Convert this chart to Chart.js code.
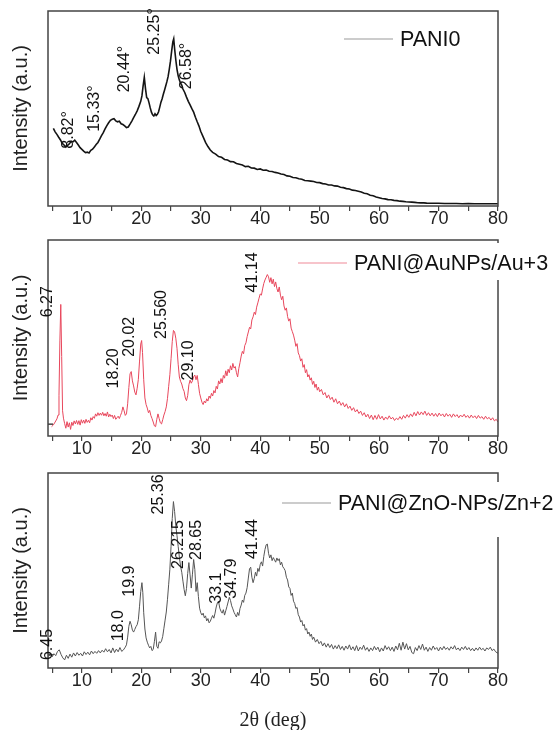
<!DOCTYPE html>
<html>
<head>
<meta charset="utf-8">
<script src="https://cdn.jsdelivr.net/npm/chart.js@4.4.1/dist/chart.umd.min.js"></script>
<style>
  html, body { margin:0; padding:0; background:#fff; }
  body { width:560px; height:730px; position:relative; overflow:hidden; }
  .panel { position:absolute; left:0; width:560px; }
</style>
</head>
<body>
<div class="panel" id="p1" style="top:0;height:236px"><canvas id="c1"></canvas></div>
<div class="panel" id="p2" style="top:236px;height:230px"><canvas id="c2"></canvas></div>
<div class="panel" id="p3" style="top:466px;height:264px"><canvas id="c3"></canvas></div>
<script>
// Data: [2theta, intensity (a.u., 0-100 of panel)]
const pani0Points = [[5.2,39.2],[5.5,37.4],[5.8,36.1],[6.1,34.6],[6.4,33.2],[6.7,31.4],[7.0,30.6],[7.3,29.5],[7.6,30.4],[7.9,31.2],[8.2,32.6],[8.5,32.2],[8.8,33.1],[9.1,31.9],[9.4,30.6],[9.7,29.2],[10.0,28.3],[10.3,27.4],[10.6,26.6],[10.9,26.9],[11.2,26.5],[11.5,27.8],[11.8,28.4],[12.1,29.6],[12.4,30.8],[12.7,31.9],[13.0,33.6],[13.3,35.4],[13.6,37.0],[13.9,38.9],[14.2,40.6],[14.5,42.1],[14.8,43.4],[15.1,43.9],[15.4,44.2],[15.7,43.1],[16.0,42.6],[16.3,42.9],[16.6,41.6],[16.9,41.2],[17.2,40.5],[17.5,39.6],[17.8,39.9],[18.1,41.4],[18.4,43.0],[18.7,44.8],[19.0,46.4],[19.3,48.3],[19.6,50.6],[19.9,53.2],[20.1,56.0],[20.3,61.2],[20.5,65.6],[20.7,59.8],[20.9,55.2],[21.1,54.6],[21.3,52.4],[21.5,49.8],[21.7,47.6],[21.9,46.2],[22.1,45.6],[22.3,46.8],[22.5,45.9],[22.7,46.5],[22.9,47.8],[23.1,50.2],[23.3,52.8],[23.5,54.6],[23.7,56.9],[23.9,59.0],[24.1,61.2],[24.3,63.4],[24.5,66.0],[24.7,69.8],[24.9,74.0],[25.1,79.2],[25.3,84.0],[25.45,85.6],[25.6,80.4],[25.8,74.6],[26.0,69.8],[26.2,66.4],[26.4,64.2],[26.6,62.6],[26.8,61.6],[27.0,59.6],[27.3,57.8],[27.6,55.4],[27.9,53.2],[28.2,51.4],[28.5,49.4],[28.8,47.6],[29.1,45.0],[29.4,42.6],[29.7,40.4],[30.0,37.6],[30.4,34.8],[30.8,32.0],[31.2,29.8],[31.6,28.0],[32.0,26.8],[32.5,25.9],[33.0,24.6],[33.5,24.2],[34.0,23.1],[34.5,22.8],[35.0,22.0],[35.5,21.9],[36.0,21.0],[36.5,20.6],[37.0,20.2],[37.5,19.4],[38.0,19.6],[38.5,18.7],[39.0,18.6],[39.5,17.9],[40.0,18.2],[40.5,17.5],[41.0,17.6],[41.5,17.0],[42.0,16.9],[42.5,16.4],[43.0,16.1],[43.5,15.6],[44.0,15.3],[44.5,14.6],[45.0,14.4],[45.5,13.8],[46.0,13.6],[46.5,13.1],[47.0,12.9],[47.5,12.2],[48.0,12.1],[48.5,11.9],[49.0,11.7],[49.5,11.2],[50.0,11.1],[50.5,10.6],[51.0,10.4],[51.5,9.9],[52.0,9.9],[52.5,9.4],[53.0,9.3],[53.5,8.7],[54.0,8.5],[54.5,8.0],[55.0,7.8],[55.5,7.2],[56.0,7.0],[56.5,6.6],[57.0,6.2],[57.5,5.6],[58.0,5.3],[58.5,4.6],[59.0,4.3],[59.5,3.7],[60.0,3.3],[60.5,2.9],[61.0,2.7],[61.5,2.3],[62.0,2.2],[62.5,1.9],[63.0,1.8],[63.5,1.5],[64.0,1.4],[64.5,1.2],[65.0,1.1],[65.5,1.0],[66.0,0.9],[66.5,0.7],[67.0,0.6],[67.5,0.6],[68.0,0.5],[69.0,0.4],[70.0,0.4],[71.0,0.3],[72.0,0.3],[73.0,0.3],[74.0,0.2],[75.0,0.3],[76.0,0.2],[77.0,0.2],[78.0,0.2],[79.0,0.2],[80.0,0.2]];

const auPoints = [[4.9,3.8],[5.2,4.7],[5.5,6.2],[5.8,7.8],[6.0,9.8],[6.15,20],[6.3,48],[6.45,66.8],[6.6,40],[6.75,12],[6.9,8.2],[7.1,5.4],[7.3,3.0],[7.5,6.4],[7.7,3.6],[7.9,5.8],[8.1,2.4],[8.3,6.1],[8.5,4.4],[8.7,6.8],[8.9,5.2],[9.1,7.0],[9.3,5.0],[9.5,6.9],[9.7,4.6],[9.9,7.4],[10.1,5.6],[10.3,7.2],[10.5,5.5],[10.7,7.6],[10.9,6.0],[11.1,7.1],[11.3,5.8],[11.5,8.4],[11.7,7.2],[11.9,9.0],[12.1,8.1],[12.3,10.4],[12.5,9.2],[12.7,11.0],[12.9,9.6],[13.1,10.8],[13.3,9.7],[13.5,11.2],[13.7,9.4],[13.9,10.6],[14.1,9.2],[14.3,11.4],[14.5,8.8],[14.7,10.2],[14.9,9.0],[15.1,9.8],[15.3,8.0],[15.5,9.6],[15.7,7.6],[15.9,8.4],[16.1,9.2],[16.3,8.0],[16.5,9.6],[16.7,11.2],[16.9,14.0],[17.1,12.0],[17.3,9.6],[17.5,10.4],[17.7,15.6],[17.9,24],[18.1,31.0],[18.3,32.2],[18.5,27.4],[18.7,24.8],[18.9,21.6],[19.1,20.2],[19.3,23.6],[19.5,28.2],[19.7,37.6],[19.9,46.4],[20.05,48.2],[20.2,42.0],[20.4,28.0],[20.6,18.6],[20.8,15.2],[21.0,13.4],[21.2,11.0],[21.4,12.2],[21.6,9.6],[21.8,8.0],[22.0,6.2],[22.2,4.2],[22.4,3.8],[22.6,7.6],[22.8,10.4],[23.0,8.0],[23.2,5.8],[23.4,5.2],[23.6,7.4],[23.8,9.8],[24.0,11.6],[24.2,14.0],[24.4,18.4],[24.6,24.6],[24.8,30.6],[25.0,38.8],[25.2,47.6],[25.4,53.4],[25.6,52.6],[25.8,49.4],[26.0,44.2],[26.2,36.0],[26.4,29.4],[26.6,27.2],[26.8,25.8],[27.0,23.4],[27.2,22.0],[27.4,18.6],[27.6,17.2],[27.8,19.8],[28.0,25.4],[28.2,27.8],[28.4,26.2],[28.6,27.4],[28.8,29.6],[29.0,30.4],[29.2,28.0],[29.4,30.2],[29.6,25.6],[29.8,21.0],[30.0,18.6],[30.2,16.4],[30.4,15.2],[30.6,17.0],[30.8,16.0],[31.0,18.2],[31.2,17.0],[31.4,19.6],[31.6,18.4],[31.8,21.0],[32.0,19.6],[32.2,22.4],[32.4,21.2],[32.6,24.6],[32.8,23.2],[33.0,27.4],[33.2,25.8],[33.4,28.6],[33.6,26.4],[33.8,30.2],[34.0,28.8],[34.2,32.6],[34.4,30.0],[34.6,33.4],[34.8,31.6],[35.0,35.2],[35.2,33.0],[35.4,36.4],[35.6,34.0],[35.8,34.8],[36.0,31.6],[36.2,29.4],[36.4,33.8],[36.6,36.8],[36.8,40.2],[37.0,42.6],[37.2,41.4],[37.4,45.6],[37.6,47.0],[37.8,50.2],[38.0,52.6],[38.2,55.0],[38.4,54.2],[38.6,58.8],[38.8,60.4],[39.0,62.8],[39.2,61.6],[39.4,65.4],[39.6,67.6],[39.8,70.0],[40.0,72.2],[40.2,71.6],[40.4,74.8],[40.6,77.6],[40.8,79.4],[41.0,80.8],[41.2,82.2],[41.4,81.0],[41.6,78.2],[41.8,80.6],[42.0,77.4],[42.2,79.8],[42.4,76.0],[42.6,78.4],[42.8,75.0],[43.0,73.2],[43.2,75.8],[43.4,71.6],[43.6,69.2],[43.8,71.0],[44.0,66.0],[44.2,63.8],[44.4,65.0],[44.6,60.6],[44.8,58.2],[45.0,59.4],[45.2,54.6],[45.4,52.8],[45.6,51.0],[45.8,48.4],[46.0,45.2],[46.2,46.6],[46.4,41.8],[46.6,40.4],[46.8,37.6],[47.0,38.8],[47.2,34.4],[47.4,35.8],[47.6,31.6],[47.8,33.2],[48.0,29.4],[48.2,30.6],[48.4,27.8],[48.6,29.0],[48.8,25.6],[49.0,27.2],[49.2,24.0],[49.4,25.8],[49.6,22.6],[49.8,24.2],[50.0,21.8],[50.3,23.0],[50.6,20.2],[50.9,21.4],[51.2,18.6],[51.5,20.2],[51.8,17.8],[52.1,19.0],[52.4,16.4],[52.7,18.2],[53.0,15.6],[53.3,17.0],[53.6,14.8],[53.9,16.2],[54.2,14.0],[54.5,15.6],[54.8,13.2],[55.1,14.4],[55.4,12.2],[55.7,13.6],[56.0,11.4],[56.3,12.6],[56.6,10.6],[56.9,11.8],[57.2,9.6],[57.5,11.0],[57.8,8.8],[58.1,10.2],[58.4,8.0],[58.7,9.8],[59.0,7.4],[59.3,9.6],[59.6,7.6],[59.9,10.0],[60.2,7.8],[60.5,9.2],[60.8,7.2],[61.1,8.8],[61.4,7.6],[61.7,9.4],[62.0,7.8],[62.3,8.6],[62.6,7.0],[62.9,8.2],[63.2,7.4],[63.5,9.0],[63.8,7.6],[64.1,9.6],[64.4,8.2],[64.7,10.0],[65.0,8.6],[65.3,10.4],[65.6,9.0],[65.9,11.2],[66.2,9.4],[66.5,11.6],[66.8,9.8],[67.1,11.4],[67.4,10.0],[67.7,11.8],[68.0,9.6],[68.3,11.0],[68.6,9.4],[68.9,10.8],[69.2,9.2],[69.5,10.6],[69.8,9.0],[70.1,10.8],[70.4,9.4],[70.7,10.4],[71.0,8.8],[71.3,10.6],[71.6,9.2],[71.9,10.2],[72.2,8.6],[72.5,10.4],[72.8,9.0],[73.1,10.0],[73.4,8.4],[73.7,9.8],[74.0,8.8],[74.3,10.2],[74.6,8.6],[74.9,9.6],[75.2,8.2],[75.5,9.8],[75.8,8.4],[76.1,9.4],[76.4,8.0],[76.7,9.6],[77.0,8.2],[77.3,9.0],[77.6,7.6],[77.9,9.2],[78.2,7.8],[78.5,8.6],[78.8,7.2],[79.1,8.4],[79.4,6.8],[79.7,7.6],[80.0,6.2]];

const znoPoints = [[4.4,5.0],[4.7,6.6],[5.0,4.8],[5.3,6.4],[5.6,5.4],[5.9,7.6],[6.2,8.4],[6.5,6.0],[6.8,4.2],[7.1,3.2],[7.4,5.6],[7.7,4.0],[8.0,6.2],[8.3,4.6],[8.6,6.8],[8.9,5.2],[9.2,7.0],[9.5,5.6],[9.8,6.6],[10.1,5.2],[10.4,7.4],[10.7,6.0],[11.0,7.2],[11.3,5.8],[11.6,7.8],[11.9,6.4],[12.2,7.6],[12.5,6.6],[12.8,8.0],[13.1,6.8],[13.4,8.2],[13.7,7.2],[14.0,9.0],[14.3,7.4],[14.6,8.6],[14.9,6.8],[15.2,9.4],[15.5,7.0],[15.8,8.8],[16.1,7.4],[16.4,9.6],[16.7,7.6],[17.0,8.4],[17.3,9.8],[17.5,11.0],[17.7,15.0],[17.9,20.6],[18.1,23.2],[18.3,21.4],[18.5,18.6],[18.7,17.6],[18.9,19.0],[19.1,20.4],[19.3,21.4],[19.5,24.0],[19.7,31.0],[19.9,38.6],[20.1,43.2],[20.25,38.0],[20.4,27.6],[20.6,19.2],[20.8,14.6],[21.0,12.4],[21.2,10.8],[21.4,9.4],[21.6,10.2],[21.8,8.0],[22.0,8.6],[22.2,12.8],[22.4,17.6],[22.6,10.2],[22.8,9.2],[23.0,12.6],[23.2,12.0],[23.4,13.0],[23.6,15.4],[23.8,19.6],[24.0,23.8],[24.2,28.0],[24.4,34.6],[24.6,42.4],[24.8,50.2],[25.0,62.0],[25.2,76.4],[25.4,85.2],[25.6,80.0],[25.8,72.6],[26.0,67.6],[26.2,62.0],[26.4,56.4],[26.6,51.8],[26.8,48.6],[27.0,44.0],[27.2,39.6],[27.4,36.4],[27.6,40.2],[27.8,48.0],[28.0,53.6],[28.2,47.2],[28.4,40.4],[28.6,47.6],[28.8,55.2],[29.0,50.0],[29.2,38.6],[29.4,43.2],[29.6,36.0],[29.8,30.0],[30.0,27.6],[30.2,26.4],[30.4,27.4],[30.6,25.0],[30.8,26.0],[31.0,23.4],[31.2,24.6],[31.4,22.4],[31.6,23.2],[31.8,24.8],[32.0,26.2],[32.2,24.8],[32.4,27.4],[32.6,30.6],[32.8,32.8],[33.0,33.4],[33.2,30.0],[33.4,28.4],[33.6,27.4],[33.8,29.2],[34.0,26.4],[34.2,28.6],[34.4,30.8],[34.6,33.2],[34.8,35.6],[35.0,34.0],[35.2,31.2],[35.4,29.6],[35.6,27.8],[35.8,26.6],[36.0,25.4],[36.2,27.8],[36.4,26.2],[36.6,29.8],[36.8,31.6],[37.0,34.2],[37.2,33.0],[37.4,36.6],[37.6,37.8],[37.8,40.6],[38.0,45.6],[38.2,50.4],[38.4,51.2],[38.6,46.0],[38.8,43.2],[39.0,45.4],[39.2,48.6],[39.4,46.6],[39.6,50.6],[39.8,49.0],[40.0,52.6],[40.2,54.0],[40.4,51.8],[40.6,56.8],[40.8,60.4],[41.0,62.8],[41.2,63.2],[41.4,58.4],[41.6,56.0],[41.8,57.6],[42.0,54.6],[42.2,56.2],[42.4,55.0],[42.6,53.8],[42.8,56.0],[43.0,54.6],[43.2,55.6],[43.4,52.4],[43.6,53.8],[43.8,51.4],[44.0,50.6],[44.2,49.4],[44.4,46.0],[44.6,44.6],[44.8,41.0],[45.0,40.2],[45.2,36.6],[45.4,37.8],[45.6,33.6],[45.8,32.4],[46.0,29.8],[46.2,30.4],[46.4,26.6],[46.6,25.4],[46.8,22.8],[47.0,23.6],[47.2,20.8],[47.4,21.6],[47.6,18.6],[47.8,19.4],[48.0,16.6],[48.2,17.6],[48.4,15.4],[48.6,16.6],[48.8,13.8],[49.0,15.0],[49.3,12.4],[49.6,13.8],[49.9,11.6],[50.2,12.8],[50.5,10.4],[50.8,12.0],[51.1,9.8],[51.4,11.6],[51.7,9.6],[52.0,11.2],[52.3,8.8],[52.6,10.6],[52.9,9.0],[53.2,11.0],[53.5,8.6],[53.8,10.2],[54.1,8.2],[54.4,10.4],[54.7,8.8],[55.0,11.0],[55.3,8.4],[55.6,10.0],[55.9,8.0],[56.2,10.6],[56.5,7.8],[56.8,9.8],[57.1,8.6],[57.4,10.8],[57.7,8.2],[58.0,9.6],[58.3,7.6],[58.6,9.4],[58.9,8.0],[59.2,10.2],[59.5,8.4],[59.8,9.8],[60.1,7.4],[60.4,9.4],[60.7,7.8],[61.0,10.6],[61.3,8.6],[61.6,10.0],[61.9,8.0],[62.2,9.8],[62.5,7.6],[62.8,10.4],[63.1,8.4],[63.4,11.8],[63.7,8.2],[64.0,12.4],[64.3,8.8],[64.6,11.6],[64.9,8.4],[65.2,10.2],[65.5,7.0],[65.8,6.4],[66.1,9.6],[66.4,8.0],[66.7,10.6],[67.0,8.6],[67.3,11.4],[67.6,8.2],[67.9,9.8],[68.2,7.6],[68.5,9.6],[68.8,8.2],[69.1,10.4],[69.4,8.6],[69.7,9.6],[70.0,7.8],[70.3,9.8],[70.6,8.4],[70.9,10.2],[71.2,8.6],[71.5,9.6],[71.8,8.2],[72.1,10.0],[72.4,8.8],[72.7,10.6],[73.0,8.4],[73.3,9.4],[73.6,8.0],[73.9,9.8],[74.2,8.6],[74.5,10.2],[74.8,8.4],[75.1,9.6],[75.4,8.0],[75.7,9.2],[76.0,7.8],[76.3,9.4],[76.6,8.2],[76.9,9.8],[77.2,8.4],[77.5,9.2],[77.8,7.8],[78.1,9.4],[78.4,8.6],[78.7,9.8],[79.0,8.0],[79.3,8.8],[79.6,7.4],[80.0,6.6]];

// Peak annotations: text, x position (deg) and y position (start of the rotated text)
const pani0Peaks = ['8.82°', '15.33°', '20.44°', '25.25°', '26.58°'];
const pani0PeakX = [7.8, 12.1, 17.25, 22.3, 27.6];
const pani0PeakY = [28.7, 37.4, 57.9, 77.4, 59.5];

const auPeaks = ['6.27', '18.20', '20.02', '25.560', '29.10', '41.14'];
const auPeakX = [4.3, 15.3, 18.1, 23.4, 28.0, 38.8];
const auPeakY = [60.2, 23.5, 39.8, 49.0, 27.6, 73.0];

const znoPeaks = ['6.45', '18.0', '19.9', '25.36', '26.215', '28.65', '33.1', '34.79', '41.44'];
const znoPeakX = [4.3, 16.2, 18.1, 22.85, 26.2, 29.3, 32.6, 35.2, 38.8];
const znoPeakY = [3.1, 12.8, 35.9, 78.5, 50.3, 55.0, 32.3, 34.9, 55.4];

const xTicks = [5,10,15,20,25,30,35,40,45,50,55,60,65,70,75,80];

Chart.defaults.font.family = '"Liberation Sans", Arial, sans-serif';
Chart.defaults.color = '#222';

// frame, peak labels and legend drawn on top of the data
const xrdDecor = {
  id: 'xrdDecor',
  afterDatasetsDraw(chart, args, opts){
    const {ctx, chartArea: a, scales: {x, y}} = chart;
    ctx.save();
    ctx.strokeStyle = '#444'; ctx.lineWidth = 1.5;
    ctx.strokeRect(a.left, a.top, a.right - a.left, a.bottom - a.top);
    if(opts.baseTick != null){
      const ty = y.getPixelForValue(opts.baseTick);
      ctx.beginPath(); ctx.moveTo(a.left, ty); ctx.lineTo(a.left + 5, ty); ctx.stroke();
    }
    // peak positions
    ctx.fillStyle = '#111';
    ctx.font = '16px "Liberation Sans", Arial, sans-serif';
    ctx.textAlign = 'left'; ctx.textBaseline = 'middle';
    opts.texts.forEach((t, i)=>{
      ctx.save();
      ctx.translate(x.getPixelForValue(opts.xs[i]), y.getPixelForValue(opts.ys[i]));
      ctx.rotate(-Math.PI/2);
      ctx.fillText(t, 0, 0);
      ctx.restore();
    });
    // legend
    const lg = opts.legend;
    const ly = a.top + lg.dy;
    const lx = a.right - lg.dx;
    if(lg.box){
      ctx.fillStyle = '#fff';
      ctx.fillRect(lx - 6, ly - lg.box[0], chart.width - lx + 6, lg.box[0] + lg.box[1]);
    }
    ctx.strokeStyle = lg.color; ctx.lineWidth = 1.2;
    ctx.beginPath(); ctx.moveTo(lx, ly); ctx.lineTo(lx + 49, ly); ctx.stroke();
    ctx.fillStyle = '#111';
    ctx.font = '21.5px "Liberation Sans", Arial, sans-serif';
    ctx.fillText(chart.data.datasets[0].label, lx + 56, ly + 1);
    ctx.restore();
  }
};

function makePanel(id, label, points, color, width, decor, padTop, axisH, showTitle){
  return new Chart(document.getElementById(id), {
    type: 'line',
    data: { datasets: [{ label, data: points.map(p => ({x: p[0], y: p[1]})), borderColor: color, borderWidth: width, pointRadius: 0, tension: 0, fill: false }] },
    options: {
      responsive: true, maintainAspectRatio: false, animation: false,
      layout: { padding: { top: padTop, right: 62, left: 0, bottom: 0 } },
      plugins: { legend: { display: false }, tooltip: { enabled: false }, xrdDecor: decor },
      scales: {
        x: {
          type: 'linear', min: 4.3, max: 80,
          afterBuildTicks: s => { s.ticks = xTicks.map(v => ({value: v})); },
          afterFit: s => { s.height = axisH; },
          ticks: { autoSkip: false, maxRotation: 0, padding: -3, font: { size: 18 }, color: '#222',
                   callback: v => (v % 10 === 0 ? String(v) : '') },
          grid: { drawOnChartArea: false, drawTicks: true, tickLength: 5, color: '#444', lineWidth: 1.2 },
          border: { display: false },
          title: { display: showTitle, text: '2θ (deg)', color: '#222',
                   font: { family: '"Liberation Serif", "Times New Roman", serif', size: 20, lineHeight: 1 },
                   padding: { top: 0, bottom: -1 } }
        },
        y: {
          min: -1, max: 100,
          afterFit: s => { s.width = 48; },
          ticks: { display: false },
          grid: { display: false },
          border: { display: false },
          title: { display: true, text: 'Intensity (a.u.)', color: '#222', font: { size: 20 }, padding: { top: 9, bottom: 0 } }
        }
      }
    },
    plugins: [xrdDecor]
  });
}

makePanel('c1', 'PANI0', pani0Points, '#141414', 1.6,
  { texts: pani0Peaks, xs: pani0PeakX, ys: pani0PeakY, baseTick: null,
    legend: { dx: 154, dy: 28, color: '#9a9a9a', box: null } }, 11, 30, false);

makePanel('c2', 'PANI@AuNPs/Au+3', auPoints, '#e8475c', 1,
  { texts: auPeaks, xs: auPeakX, ys: auPeakY, baseTick: 5.1,
    legend: { dx: 200, dy: 23, color: '#f08a98', box: [20, 17] } }, 4, 30, false);

makePanel('c3', 'PANI@ZnO-NPs/Zn+2', znoPoints, '#555', 1,
  { texts: znoPeaks, xs: znoPeakX, ys: znoPeakY, baseTick: 5.8,
    legend: { dx: 216, dy: 30, color: '#9a9a9a', box: [21, 34] } }, 7, 62, true);
</script>
</body>
</html>
